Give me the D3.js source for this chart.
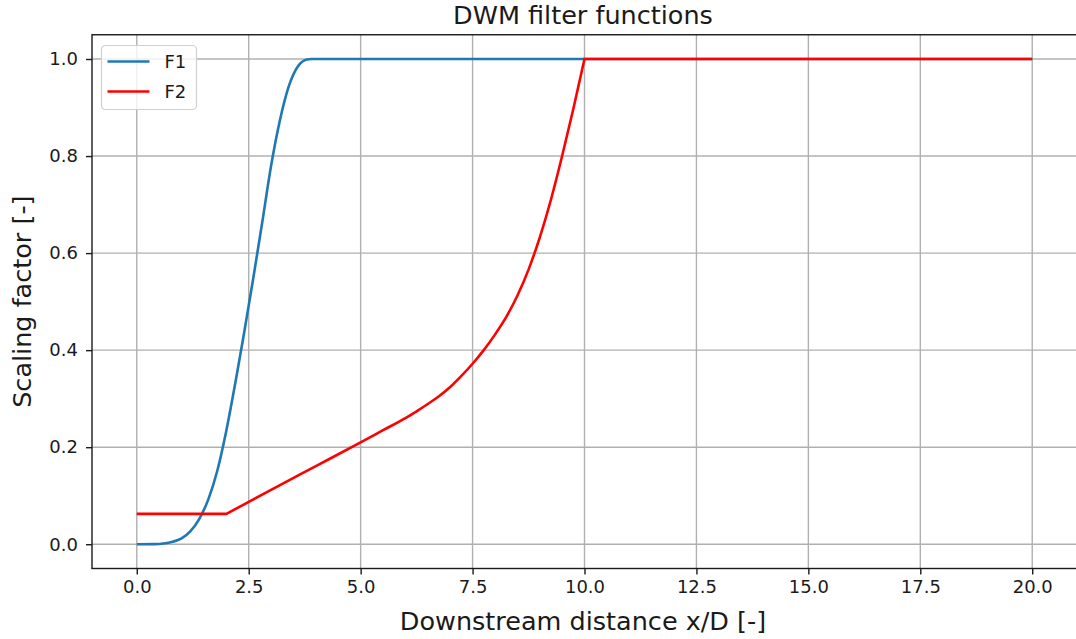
<!DOCTYPE html>
<html>
<head>
<meta charset="utf-8">
<script src="https://cdn.jsdelivr.net/npm/d3@7"></script>
<style>
  body { margin: 0; background: #fff; }
  text { font-family: "DejaVu Sans", sans-serif; fill: #1a1a1a; }
</style>
</head>
<body>
<div id="chart"></div>
<script>
// values
var f1X = [0, 0.4, 0.6, 0.8, 1.0, 1.2, 1.4, 1.6, 1.8, 2.0, 2.2, 2.4, 2.6, 2.8, 3.0, 3.2, 3.4, 3.6, 3.8, 3.9, 20];
var f1Y = [0, 0.0003, 0.0015, 0.005, 0.012, 0.027, 0.053, 0.093, 0.152, 0.234, 0.332, 0.437, 0.547, 0.662, 0.78, 0.875, 0.945, 0.985, 0.999, 1.0, 1.0];

var f2X = [0, 2.0, 3.0, 4.0, 5.0, 5.5, 6.0, 6.25, 6.5, 6.75, 7.0, 7.25, 7.5, 7.75, 8.0, 8.25, 8.5, 8.75, 9.0, 9.25, 9.5, 9.75, 10.0, 20.0];
var f2Y = [0.0625, 0.0625, 0.112, 0.161, 0.21, 0.235, 0.26, 0.274, 0.289, 0.305, 0.324, 0.347, 0.372, 0.4, 0.432, 0.468, 0.512, 0.566, 0.632, 0.71, 0.8, 0.897, 1.0, 1.0];

var xTicks = [0, 2.5, 5, 7.5, 10, 12.5, 15, 17.5, 20];
var yTicks = [0, 0.2, 0.4, 0.6, 0.8, 1.0];
var seriesNames = ["F1", "F2"];
var seriesColors = ["#1f77b4", "#ff0000"];

var width = 1076, height = 639;
var plotLeft = 92, plotRight = 1077, plotTop = 34.75, plotBottom = 568.5;

var svg = d3.select("#chart").append("svg")
    .attr("width", width)
    .attr("height", height)

var x = d3.scaleLinear().domain([-1, 21]).range([plotLeft, plotRight]);
var y = d3.scaleLinear().domain([-0.05, 1.05]).range([plotBottom, plotTop]);

// grid
var grid = svg.append("g").attr("class", "grid")
grid.selectAll(".vg").data(xTicks).enter().append("line")
    .attr("x1", d => x(d)).attr("x2", d => x(d))
    .attr("y1", plotTop).attr("y2", plotBottom)
    .attr("stroke", "#b0b0b0").attr("stroke-width", 1.4)
grid.selectAll(".hg").data(yTicks).enter().append("line")
    .attr("y1", d => y(d)).attr("y2", d => y(d))
    .attr("x1", plotLeft).attr("x2", plotRight)
    .attr("stroke", "#b0b0b0").attr("stroke-width", 1.4)

// lines
var f1Data = f1X.map((v, i) => [v, f1Y[i]]);
var f2Data = f2X.map((v, i) => [v, f2Y[i]]);

var straight = d3.line().x(d => x(d[0])).y(d => y(d[1]));
var smooth = d3.line().x(d => x(d[0])).y(d => y(d[1])).curve(d3.curveMonotoneX);

svg.append("path")
    .attr("d", smooth(f1Data))
    .attr("fill", "none")
    .attr("stroke", seriesColors[0])
    .attr("stroke-width", 2.6)

// F2: flat start, curved middle, flat end (corners kept sharp)
var kinkA = f2X.indexOf(2.0), kinkB = f2X.indexOf(10.0);
var f2Path = straight(f2Data.slice(0, kinkA + 1))
    + smooth(f2Data.slice(kinkA, kinkB + 1)).replace(/^M/, "L")
    + straight(f2Data.slice(kinkB)).replace(/^M/, "L");

svg.append("path")
    .attr("d", f2Path)
    .attr("fill", "none")
    .attr("stroke", seriesColors[1])
    .attr("stroke-width", 2.6)

// axes
svg.append("g")
    .attr("transform", "translate(0," + plotBottom + ")")
    .call(d3.axisBottom(x).tickValues(xTicks).tickFormat(d3.format(".1f")).tickSize(6).tickPadding(6))
svg.append("g")
    .attr("transform", "translate(" + plotLeft + ",0)")
    .call(d3.axisLeft(y).tickValues(yTicks).tickFormat(d3.format(".1f")).tickSize(6).tickPadding(8))

svg.selectAll(".domain").remove()
svg.selectAll(".tick line").attr("stroke", "#1a1a1a").attr("stroke-width", 1.4)
svg.selectAll(".tick text").style("font-size", "18px").style("font-family", "DejaVu Sans").attr("fill", "#1a1a1a")

// frame
svg.append("rect")
    .attr("x", plotLeft).attr("y", plotTop)
    .attr("width", plotRight - plotLeft).attr("height", plotBottom - plotTop)
    .attr("fill", "none").attr("stroke", "#1a1a1a").attr("stroke-width", 1.4)

// title and labels
svg.append("text")
    .attr("x", 583).attr("y", 24)
    .attr("text-anchor", "middle")
    .style("font-size", "25.5px")
    .text("DWM filter functions")

svg.append("text")
    .attr("x", 583).attr("y", 630)
    .attr("text-anchor", "middle")
    .style("font-size", "25.5px")
    .text("Downstream distance x/D [-]")

svg.append("text")
    .attr("transform", "translate(31," + ((plotTop + plotBottom) / 2) + ") rotate(-90)")
    .attr("text-anchor", "middle")
    .style("font-size", "25.5px")
    .text("Scaling factor [-]")

// legend
var legend = svg.append("g").attr("transform", "translate(101.5,45.5)")
legend.append("rect")
    .attr("width", 95).attr("height", 64)
    .attr("rx", 4)
    .attr("fill", "#fff").attr("fill-opacity", 0.8)
    .attr("stroke", "#d0d0d0").attr("stroke-width", 1.2)

var item = legend.selectAll(".item")
    .data(seriesNames)
    .enter().append("g")
    .attr("transform", function(d, i) {
      return "translate(0," + (16 + i * 30) + ")";
    })
item.append("line")
    .attr("x1", 6).attr("x2", 48)
    .attr("stroke", (d, i) => seriesColors[i])
    .attr("stroke-width", 2.6)
item.append("text")
    .attr("x", 63).attr("y", 6.5)
    .style("font-size", "18px")
    .text(d => d)
</script>
</body>
</html>
